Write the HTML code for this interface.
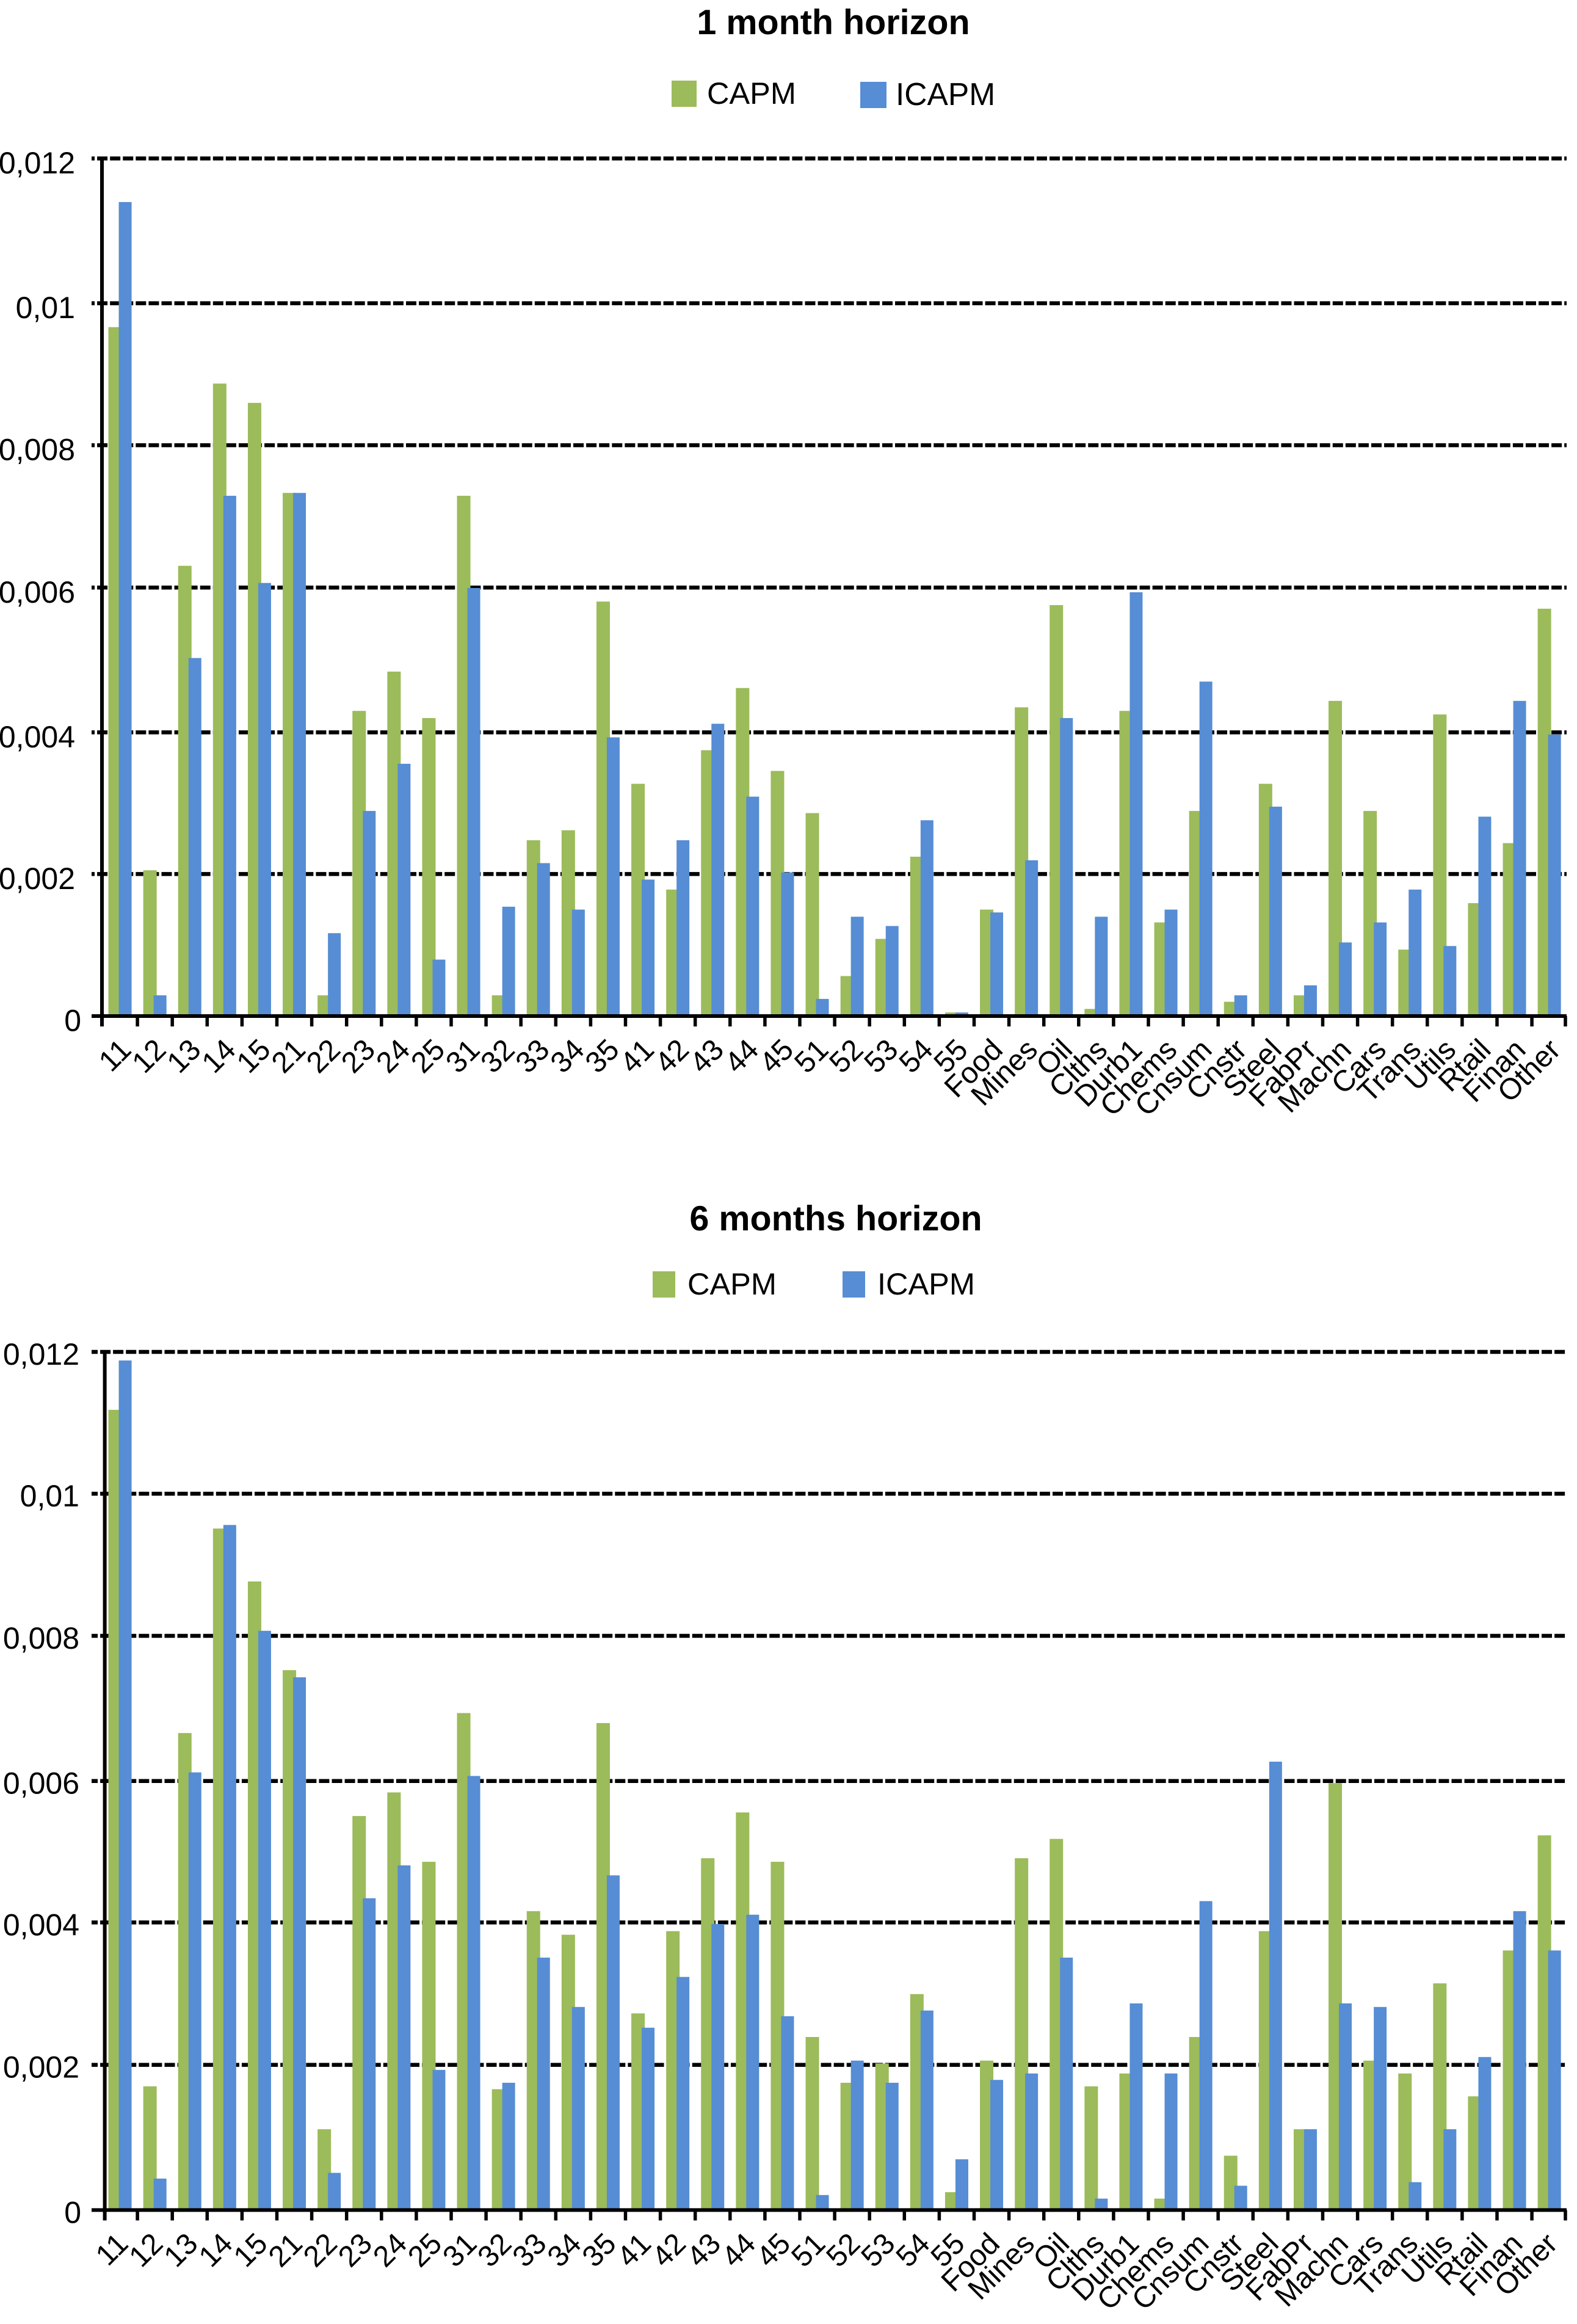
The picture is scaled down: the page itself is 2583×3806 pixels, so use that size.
<!DOCTYPE html>
<html lang="en">
<head>
<meta charset="utf-8">
<title>CAPM vs ICAPM by horizon</title>
<style>
html,body{margin:0;padding:0;background:#fff;}
svg{display:block;font-family:"Liberation Sans",Arial,sans-serif;}
</style>
</head>
<body>
<svg id="figure" xmlns="http://www.w3.org/2000/svg" width="2583" height="3806" viewBox="0 0 2583 3806">
  <rect x="0" y="0" width="2583" height="3806" fill="#fff"/>

  <text x="1365" y="56" font-size="57.5" font-weight="bold" text-anchor="middle" fill="#000">1 month horizon</text>
  <rect x="1100" y="132" width="41" height="43" fill="#9cbb5a"/>
  <text x="1158" y="170" font-size="50.5" fill="#000">CAPM</text>
  <rect x="1409" y="134" width="43" height="43" fill="#568dd4"/>
  <text x="1467" y="172" font-size="51.5" fill="#000">ICAPM</text>

  <text x="1369" y="2015" font-size="57.5" font-weight="bold" text-anchor="middle" fill="#000">6 months horizon</text>
  <rect x="1069" y="2082" width="37" height="43" fill="#9cbb5a"/>
  <text x="1126" y="2120" font-size="50.5" fill="#000">CAPM</text>
  <rect x="1380" y="2082" width="37" height="43" fill="#568dd4"/>
  <text x="1437" y="2120" font-size="50.5" fill="#000">ICAPM</text>

  <g id="chart-1"></g>
  <g id="chart-2"></g>
</svg>

<script>
const categories = ["11","12","13","14","15","21","22","23","24","25","31","32","33","34","35","41","42","43","44","45","51","52","53","54","55","Food","Mines","Oil","Clths","Durb1","Chems","Cnsum","Cnstr","Steel","FabPr","Machn","Cars","Trans","Utils","Rtail","Finan","Other"];
const yTickValues = [0, 0.002, 0.004, 0.006, 0.008, 0.01, 0.012];
const yTickLabels = ["0", "0,002", "0,004", "0,006", "0,008", "0,01", "0,012"];

const capm1Month = [0.00964,0.00204,0.0063,0.00885,0.00858,0.00732,0.00029,0.00427,0.00482,0.00417,0.00728,0.00029,0.00246,0.0026,0.0058,0.00325,0.00177,0.00372,0.00459,0.00343,0.00284,0.00056,0.00108,0.00223,0.00005,0.00149,0.00432,0.00575,0.0001,0.00427,0.00131,0.00287,0.0002,0.00325,0.00029,0.00441,0.00287,0.00093,0.00422,0.00158,0.00242,0.0057];
const icapm1Month = [0.01139,0.00029,0.00501,0.00728,0.00606,0.00732,0.00116,0.00287,0.00353,0.00079,0.00599,0.00153,0.00214,0.00149,0.0039,0.00191,0.00246,0.00409,0.00307,0.00201,0.00024,0.00139,0.00126,0.00274,0.00005,0.00145,0.00218,0.00417,0.00139,0.00593,0.00149,0.00468,0.00029,0.00293,0.00043,0.00103,0.00131,0.00177,0.00098,0.00279,0.00441,0.00394];
const capm6Months = [0.01119,0.00173,0.00667,0.00953,0.00879,0.00755,0.00113,0.00551,0.00584,0.00487,0.00695,0.00169,0.00418,0.00385,0.00681,0.00275,0.0039,0.00492,0.00556,0.00487,0.00242,0.00178,0.00205,0.00302,0.00025,0.00209,0.00492,0.00519,0.00173,0.00191,0.00016,0.00242,0.00076,0.0039,0.00113,0.00597,0.00209,0.00191,0.00317,0.00159,0.00363,0.00524];
const icapm6Months = [0.01188,0.00044,0.00612,0.00958,0.0081,0.00745,0.00052,0.00436,0.00482,0.00196,0.00607,0.00178,0.00353,0.00284,0.00468,0.00255,0.00326,0.004,0.00413,0.00271,0.00021,0.00209,0.00178,0.00279,0.00071,0.00182,0.00191,0.00353,0.00016,0.00289,0.00191,0.00432,0.00034,0.00627,0.00113,0.00289,0.00284,0.00039,0.00113,0.00214,0.00418,0.00363];

const SVG_NS = "http://www.w3.org/2000/svg";
const GREEN = "#9cbb5a";
const BLUE = "#568dd4";
const Y_MAX = 0.012;
const LEFT = 150;
const RIGHT = 2566;
const X0 = 168;
const STEP = 57.1;

function make(parent, tag, attrs) {
  const el = document.createElementNS(SVG_NS, tag);
  for (const k in attrs) el.setAttribute(k, attrs[k]);
  parent.appendChild(el);
  return el;
}

function drawChart(groupId, capm, icapm, opt) {
  const g = document.getElementById(groupId);
  const xBand = function (i) { return X0 + (i + 0.5) * STEP; };
  const yScale = function (v) { return opt.y0 - (v / Y_MAX) * (opt.y0 - opt.yTop); };

  yTickValues.forEach(function (v, i) {
    const lineY = yScale(v) + opt.gridNudge[i];
    if (v !== 0) {
      const line = make(g, "line", { x1: LEFT, x2: RIGHT, y1: lineY, y2: lineY, stroke: "#000", "stroke-width": 6.5, "stroke-dasharray": "17 4.08", "stroke-dashoffset": opt.dashOffset });
      
      
    }
    const isZero = v === 0;
    const label = make(g, "text", { x: isZero ? 133 : opt.labelX, y: lineY + opt.labelDy, "font-size": 50, "text-anchor": "end", fill: "#000" });
    
    
    label.textContent = yTickLabels[i];
  });

  categories.forEach(function (name, i) {
    const c = xBand(i);
    const top1 = yScale(capm[i]);
    const bar1 = make(g, "rect", { x: c - 19, y: top1, width: 22, height: opt.y0 - top1, fill: GREEN });
    
    
    const top2 = yScale(icapm[i]);
    const bar2 = make(g, "rect", { x: c - 2, y: top2, width: 21, height: opt.y0 - top2, fill: BLUE });
    
    
  });

  const yAxis = make(g, "line", { x1: opt.axisX, x2: opt.axisX, y1: opt.yTop - 3, y2: opt.y0 + 17, stroke: "#000", "stroke-width": 6 });
  
  
  const xAxis = make(g, "line", { x1: LEFT, x2: RIGHT, y1: opt.y0, y2: opt.y0, stroke: "#000", "stroke-width": 6 });
  
  

  for (let i = 1; i <= categories.length; i++) {
    const tx = Math.min(X0 + i * STEP, RIGHT - 2);
    const tick = make(g, "line", { x1: tx, x2: tx, y1: opt.y0, y2: opt.y0 + 17, stroke: "#000", "stroke-width": 5.5 });
    
    
  }

  categories.forEach(function (name, i) {
    const lx = xBand(i) + 21 + opt.xLabelDx;
    const ly = opt.y0 + 58;
    const t = make(g, "text", { x: lx, y: ly, "font-size": 48.5, "text-anchor": "end", fill: "#000", transform: "rotate(-45 " + lx + " " + ly + ")" });
    
    
    t.textContent = name;
  });
}

drawChart("chart-1", capm1Month, icapm1Month, { y0: 1664, yTop: 259.5, axisX: 167, labelX: 123, labelDy: 24.5, dashOffset: 12, xLabelDx: 0, gridNudge: [0, 1.5, 3.5, 0.5, 1.5, 3, 0] });
drawChart("chart-2", capm6Months, icapm6Months, { y0: 3619.4, yTop: 2214, axisX: 171.6, labelX: 130, labelDy: 21, dashOffset: 7, xLabelDx: -5, gridNudge: [0, -3.5, -2.5, 0, -3.5, -2, 0] });
</script>
</body>
</html>
